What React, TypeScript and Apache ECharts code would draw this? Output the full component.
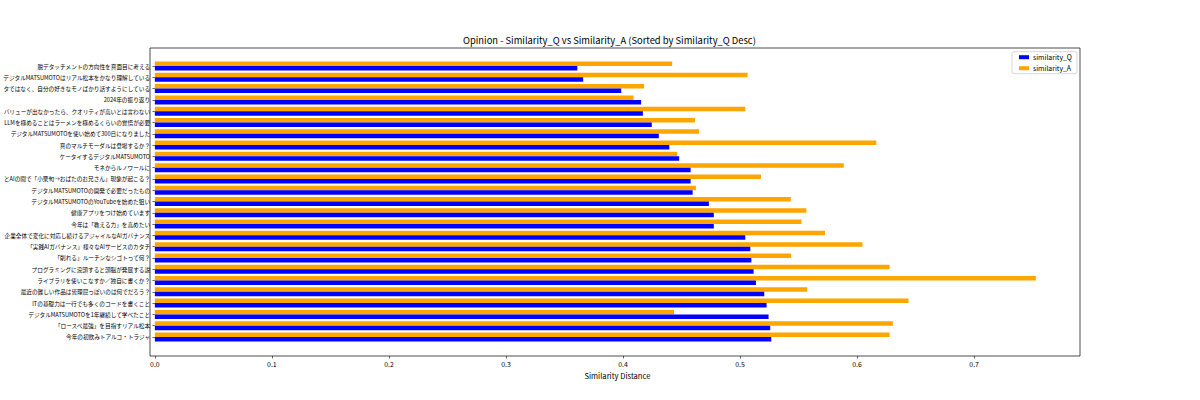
import React, { useEffect, useRef } from "react";
import * as echarts from "echarts";

const categories: string[] = [
  "脱デタッチメントの方向性を真面目に考える",
  "デジタルMATSUMOTOはリアル松本をかなり理解している",
  "タではなく、自分の好きなモノばかり話すようにしている",
  "2024年の振り返り",
  "バリューが出なかったら、クオリティが高いとは言わない",
  "LLMを極めることはラーメンを極めるくらいの覚悟が必要",
  "デジタルMATSUMOTOを使い始めて300日になりました",
  "真のマルチモーダルは登場するか？",
  "ケータイするデジタルMATSUMOTO",
  "モネからルノワールに",
  "とAIの間で「小栗旬→おばたのお兄さん」現象が起こる？",
  "デジタルMATSUMOTOの開発で必要だったもの",
  "デジタルMATSUMOTOのYouTubeを始めた狙い",
  "健康アプリをつけ始めています",
  "今年は「教える力」を高めたい",
  "企業全体で変化に対応し続けるアジャイルなAIガバナンス",
  "「実践AIガバナンス」様々なAIサービスのカタチ",
  "「削れる」ルーチンなシゴトって何？",
  "プログラミングに没頭すると頭脳が発展する説",
  "ライブラリを使いこなすか／独自に書くか？",
  "最近の難しい作品は皆理屈っぽいのは何でだろう？",
  "ITの基礎力は一行でも多くのコードを書くこと",
  "デジタルMATSUMOTOを1年継続して学べたこと",
  "「ロースペ最強」を目指すリアル松本",
  "今年の初飲みトアルコ・トラジャ",
];

const similarityQ: number[] = [
  0.361, 0.366, 0.3985, 0.4155, 0.417, 0.4246, 0.4306, 0.4396, 0.448, 0.4578,
  0.4578, 0.4595, 0.4734, 0.4776, 0.4776, 0.5045, 0.5088, 0.5097, 0.5116,
  0.5136, 0.5207, 0.5227, 0.5244, 0.5258, 0.5267,
];

const similarityA: number[] = [
  0.442, 0.5065, 0.418, 0.409, 0.5045, 0.4615, 0.465, 0.6165, 0.4464, 0.5887,
  0.5179, 0.4623, 0.5434, 0.5567, 0.5525, 0.5726, 0.6046, 0.5437, 0.6278,
  0.7528, 0.5575, 0.644, 0.4436, 0.6306, 0.6278,
];

const xTicks: number[] = [0, 0.1, 0.2, 0.3, 0.4, 0.5, 0.6, 0.7];

const FONT = "'Noto Sans CJK JP', 'Noto Sans', sans-serif";

export default function App() {
  const ref = useRef<HTMLDivElement>(null);
  useEffect(() => {
    if (!ref.current) return;
    const chart = echarts.init(ref.current, null, { renderer: "svg" });
    chart.setOption({
      animation: false,
      backgroundColor: "#ffffff",
      textStyle: { fontFamily: FONT },
      title: {
        text: "Opinion - Similarity_Q vs Similarity_A (Sorted by Similarity_Q Desc)",
        left: 463,
        top: 35.5,
        padding: 0,
        textStyle: { fontSize: 9.4, fontWeight: "normal", color: "#000", fontFamily: FONT },
      },
      legend: {
        data: ["similarity_Q", "similarity_A"],
        orient: "vertical",
        left: 1012,
        top: 51.7,
        padding: [1, 5, 1, 7],
        itemGap: 2,
        itemWidth: 10,
        itemHeight: 4,
        borderColor: "#cccccc",
        borderWidth: 0.8,
        borderRadius: 2,
        backgroundColor: "#ffffff",
        icon: "rect",
        textStyle: { fontSize: 6.9, lineHeight: 9, color: "#000", fontFamily: FONT, padding: [0, 0, 0, -1] },
      },
      grid: { left: 150, right: 120, top: 60.4, bottom: 57.4, containLabel: false },
      xAxis: {
        type: "value",
        min: 0,
        max: 0.7905,
        offset: 13.4,
        splitLine: { show: false },
        axisLine: { show: false },
        axisTick: { show: true, length: 2.4, customValues: xTicks, lineStyle: { color: "#000", width: 0.6 } },
        axisLabel: {
          customValues: xTicks,
          formatter: (v: number) => v.toFixed(1),
          fontSize: 6.9,
          margin: 4.2,
          color: "#000",
          fontFamily: FONT,
        },
        name: "Similarity Distance",
        nameLocation: "middle",
        nameGap: 13.5,
        nameTextStyle: { fontSize: 7.6, color: "#000", fontFamily: FONT },
      },
      yAxis: {
        type: "category",
        data: categories,
        inverse: true,
        axisLine: { show: false },
        axisTick: { show: true, alignWithLabel: true, length: 2.4, lineStyle: { color: "#000", width: 0.6 } },
        axisLabel: { fontSize: 5.65, margin: 4.8, color: "#000", fontFamily: FONT, interval: 0 },
        splitLine: { show: false },
      },
      series: [
        {
          name: "similarity_A",
          type: "bar",
          data: similarityA,
          barWidth: 4.5,
          barGap: "0%",
          itemStyle: { color: "#ffa500" },
        },
        {
          name: "similarity_Q",
          type: "bar",
          data: similarityQ,
          barWidth: 4.5,
          barGap: "0%",
          itemStyle: { color: "#0000ff" },
        },
      ],
      graphic: [
        {
          type: "rect",
          silent: true,
          z: 100,
          shape: { x: 150, y: 48, width: 930, height: 308 },
          style: { fill: "none", stroke: "#000", lineWidth: 0.7 },
        },
      ],
    });
    return () => chart.dispose();
  }, []);
  return (
    <div
      ref={ref}
      style={{ position: "absolute", left: 0, top: 0, width: 1200, height: 400 }}
    />
  );
}
